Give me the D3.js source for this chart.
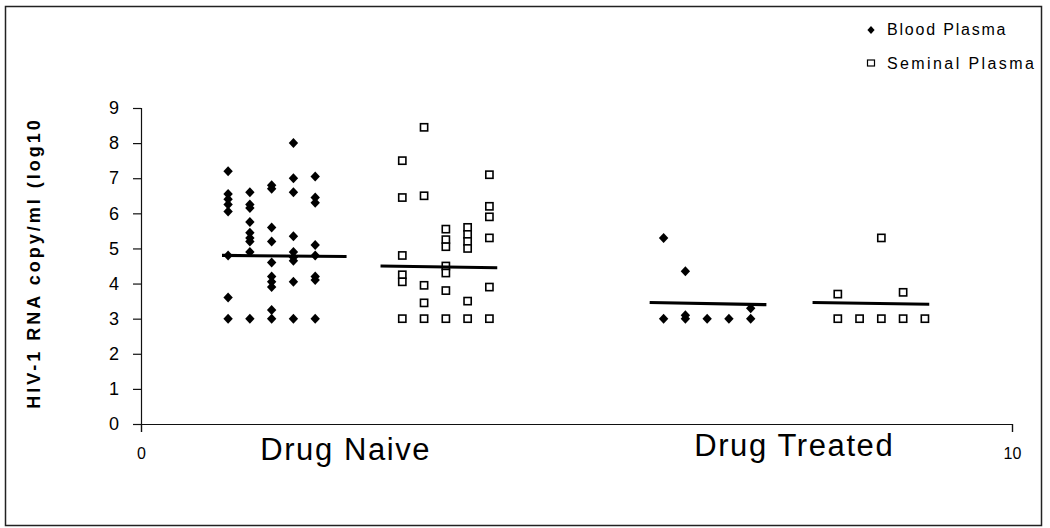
<!DOCTYPE html>
<html>
<head>
<meta charset="utf-8">
<script src="https://cdn.jsdelivr.net/npm/d3@7"></script>
<style>
  body { margin: 0; background: #fff; }
  svg text { font-family: "Liberation Sans", Arial, sans-serif; fill: #000; }
</style>
</head>
<body>
<div id="chart"></div>
<script>
// Data: each series is a set of x columns, each column holds its y values (log10 copies/ml)
const bloodNaiveX = [1, 1.25, 1.5, 1.75, 2];
const bloodNaiveY = [
  [7.2, 6.55, 6.4, 6.25, 6.05, 4.8, 3.6, 3.0],
  [6.6, 6.25, 6.15, 5.75, 5.45, 5.3, 5.2, 4.9, 3.0],
  [6.8, 6.7, 5.6, 5.2, 4.6, 4.2, 4.05, 3.9, 3.25, 3.0],
  [8.0, 7.0, 6.6, 5.35, 4.9, 4.75, 4.65, 4.05, 3.0],
  [7.05, 6.45, 6.3, 5.1, 4.8, 4.2, 4.1, 3.0]
];

const seminalNaiveX = [3, 3.25, 3.5, 3.75, 4];
const seminalNaiveY = [
  [7.5, 6.45, 4.8, 4.25, 4.05, 3.0],
  [8.45, 6.5, 3.95, 3.45, 3.0],
  [5.55, 5.25, 5.05, 4.5, 4.3, 3.8, 3.0],
  [5.6, 5.4, 5.2, 5.0, 3.5, 3.0],
  [7.1, 6.2, 5.9, 5.3, 3.9, 3.0]
];

const bloodTreatedX = [6, 6.25, 6.5, 6.75, 7];
const bloodTreatedY = [
  [5.3, 3.0],
  [4.35, 3.1, 3.0],
  [3.0],
  [3.0],
  [3.3, 3.0]
];

const seminalTreatedX = [8, 8.25, 8.5, 8.75, 9];
const seminalTreatedY = [
  [3.7, 3.0],
  [3.0],
  [5.3, 3.0],
  [3.75, 3.0],
  [3.0]
];

// Mean bars: x extent and y at each end
const meanX = [[0.93, 2.36], [2.75, 4.09], [5.84, 7.18], [7.71, 9.05]];
const meanY = [[4.8, 4.77], [4.5, 4.45], [3.46, 3.4], [3.46, 3.41]];

const yTicks = [0, 1, 2, 3, 4, 5, 6, 7, 8, 9];
const xTicks = [0, 10];
const groupNames = ["Drug Naive", "Drug Treated"];
const groupX = [2.35, 7.5];
const seriesNames = ["Blood Plasma", "Seminal Plasma"];

const width = 1050, height = 528;

const svg = d3.select("#chart")
  .append("svg")
  .attr("width", width)
  .attr("height", height);

// outer frame
svg.append("rect")
  .attr("x", 5.5).attr("y", 6.5)
  .attr("width", 1036).attr("height", 519)
  .attr("fill", "#fff")
  .attr("stroke", "#222")
  .attr("stroke-width", 1.5);

const x = d3.scaleLinear().domain([0, 10]).range([141, 1012]);
const y = d3.scaleLinear().domain([0, 9]).range([424, 108]);

// y axis
const yAxis = svg.append("g")
  .attr("transform", "translate(" + x(0) + ",0)")
  .call(d3.axisLeft(y).tickValues(yTicks).tickSize(8).tickPadding(14).tickFormat(d3.format("d")));
yAxis.selectAll("text").style("font-size", "18px");

// x axis
const xAxis = svg.append("g")
  .attr("transform", "translate(0," + y(0) + ")")
  .call(d3.axisBottom(x).tickValues(xTicks).tickSize(8).tickPadding(16).tickFormat(d3.format("d")));
xAxis.selectAll("text").style("font-size", "16px");

svg.selectAll(".domain, .tick line").attr("stroke", "#111").attr("stroke-width", 1.2);

// flatten a series into points
function points(xs, ys) {
  const out = [];
  xs.forEach(function (xv, i) {
    ys[i].forEach(function (yv) { out.push({ x: xv, y: yv }); });
  });
  return out;
}

const diamond = "M0,-5L4.7,0L0,5L-4.7,0Z";

function drawDiamonds(data) {
  svg.append("g")
    .selectAll("path")
    .data(data)
    .enter()
    .append("path")
    .attr("d", diamond)
    .attr("transform", function (d) { return "translate(" + x(d.x) + "," + y(d.y) + ")"; })
    .attr("fill", "#000");
}

function drawSquares(data) {
  svg.append("g")
    .selectAll("rect")
    .data(data)
    .enter()
    .append("rect")
    .attr("x", function (d) { return x(d.x) - 3.6; })
    .attr("y", function (d) { return y(d.y) - 3.6; })
    .attr("width", 7.2)
    .attr("height", 7.2)
    .attr("fill", "#fff")
    .attr("stroke", "#000")
    .attr("stroke-width", 1.6);
}

drawDiamonds(points(bloodNaiveX, bloodNaiveY));
drawSquares(points(seminalNaiveX, seminalNaiveY));
drawDiamonds(points(bloodTreatedX, bloodTreatedY));
drawSquares(points(seminalTreatedX, seminalTreatedY));

// mean lines on top
svg.append("g")
  .selectAll("line")
  .data(meanX)
  .enter()
  .append("line")
  .attr("x1", function (d) { return x(d[0]); })
  .attr("x2", function (d) { return x(d[1]); })
  .attr("y1", function (d, i) { return y(meanY[i][0]); })
  .attr("y2", function (d, i) { return y(meanY[i][1]); })
  .attr("stroke", "#000")
  .attr("stroke-width", 3.2);

// group labels
svg.append("g")
  .selectAll("text")
  .data(groupNames)
  .enter()
  .append("text")
  .attr("x", function (d, i) { return x(groupX[i]); })
  .attr("y", function (d, i) { return i === 0 ? 460 : 456; })
  .attr("text-anchor", "middle")
  .style("font-size", "31px")
  .style("letter-spacing", "1.6px")
  .text(function (d) { return d; });

// y axis title
svg.append("text")
  .attr("transform", "translate(39.5,263) rotate(-90)")
  .attr("text-anchor", "middle")
  .style("font-size", "18px")
  .style("font-weight", "bold")
  .style("letter-spacing", "3px")
  .text("HIV-1 RNA  copy/ml (log10");

// legend
const legend = svg.append("g");
legend.append("path")
  .attr("d", "M0,-4L3.6,0L0,4L-3.6,0Z")
  .attr("transform", "translate(871,30)")
  .attr("fill", "#000");
legend.append("rect")
  .attr("x", 867.5).attr("y", 60)
  .attr("width", 7).attr("height", 6)
  .attr("fill", "#fff").attr("stroke", "#000").attr("stroke-width", 1.2);
legend.selectAll("text")
  .data(seriesNames)
  .enter()
  .append("text")
  .attr("x", 887)
  .attr("y", function (d, i) { return 35 + i * 34; })
  .style("font-size", "16px")
  .style("letter-spacing", function (d, i) { return i === 0 ? "1.8px" : "2.4px"; })
  .text(function (d) { return d; });
</script>
</body>
</html>
